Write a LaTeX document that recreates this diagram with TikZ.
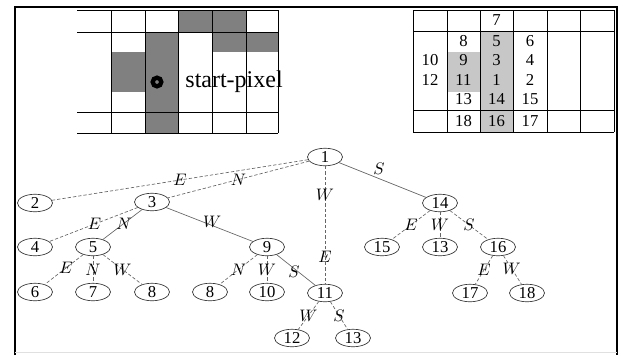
\documentclass[tikz,border=0pt]{standalone}
\usepackage{fontspec}
\setmainfont{Liberation Serif}
\usetikzlibrary{calc,shapes.geometric}
\newcommand{\Px}{0.6pt}
\tikzset{Tnode/.style={
    ellipse,
    draw=black!80,
    thin,
    inner sep=0pt,
    minimum width=21pt,
    minimum height=10.5pt,
    }
}

\begin{document}
\begin{tikzpicture}[x=\Px, y=-\Px, line width=0.5pt,
    Dir/.style={inner sep=0pt},
    Link/.style={draw=black!60, thin},
    Skip/.style={draw=black!60, thin, dash pattern=on 2pt off 1.2pt},
    Dark/.style={fill=gray},
    Light/.style={fill=black!22},
]
\useasboundingbox (0,0) rectangle (623,355);
% frame
\draw[line width=1.5pt] (15,355) -- (15,7) -- (617,7) -- (617,355);
\draw[black!12] (15,352) -- (617,352);

% pixel grid with the start pixel
\fill[Dark] (178,10) rectangle (246,32);
\fill[Dark] (212,32) rectangle (278,52);
\fill[Dark] (145,32) rectangle (178,133);
\fill[Dark] (111,52) rectangle (145,92);
\foreach \x in {111,145,178,212,246,278} \draw (\x,10) -- (\x,133);
\foreach \y in {10,32,112,133} \draw (77,\y) -- (278,\y);
\draw[line width=2.6pt] (157,82) circle (4.3);
\node[anchor=west, inner sep=0pt, font=\Large] (start) at (185,82) {start-pixel};

% visiting order
\fill[Light] (480,31) rectangle (513,132);
\fill[Light] (447,52) rectangle (480,92);
\foreach \x in {413,447,480,513,547,580,614} \draw (\x,10) -- (\x,132);
\foreach \y in {10,31,110,132} \draw (413,\y) -- (614,\y);
\node (g7) at (496.5,20.5) {7};
\node (g8) at (463.5,41) {8};
\node (g5) at (496.5,41) {5};
\node (g6) at (530,41) {6};
\node (g10) at (430,60) {10};
\node (g9) at (463.5,60) {9};
\node (g3) at (496.5,60) {3};
\node (g4) at (530,60) {4};
\node (g12) at (430,80) {12};
\node (g11) at (463.5,80) {11};
\node (g1) at (496.5,80) {1};
\node (g2) at (530,80) {2};
\node (g13) at (463.5,99) {13};
\node (g14) at (496.5,99) {14};
\node (g15) at (530,99) {15};
\node (g18) at (463.5,121) {18};
\node (g16) at (496.5,121) {16};
\node (g17) at (530,121) {17};

% search tree
\node[Tnode] (n1) at (325,157) {1};
\node[Tnode] (n2) at (35,203) {2};
\node[Tnode] (n3) at (152,202) {3};
\node[Tnode] (n14) at (440,203) {14};
\node[Tnode] (n4) at (35,247) {4};
\node[Tnode] (n5) at (93,247) {5};
\node[Tnode] (n9) at (267,247) {9};
\node[Tnode] (n15) at (382,247) {15};
\node[Tnode] (n13a) at (440,247) {13};
\node[Tnode] (n16) at (498,247) {16};
\node[Tnode] (n6) at (35,292) {6};
\node[Tnode] (n7) at (93,292) {7};
\node[Tnode] (n8a) at (152,292) {8};
\node[Tnode] (n8b) at (210,292) {8};
\node[Tnode] (n10) at (267,292) {10};
\node[Tnode] (n11) at (325,293) {11};
\node[Tnode] (n17) at (470,293) {17};
\node[Tnode] (n18) at (527,293) {18};
\node[Tnode] (n12) at (292,338) {12};
\node[Tnode] (n13b) at (353,338) {13};

\draw[Skip] (n1) -- node[Dir, pos=0.5] {$E$} (n2);
\draw[Skip] (n1) -- node[Dir, pos=0.5] {$N$} (n3);
\draw[Link] (n1) -- node[Dir, pos=0.46, above=2pt] {$S$} (n14);
\draw[Skip] (n1) -- node[Dir, pos=0.24] {$W$} node[Dir, pos=0.77] {$E$} (n11);
\draw[Skip] (n3) -- node[Dir, pos=0.49] {$E$} (n4);
\draw[Link] (n3) -- node[Dir, pos=0.46] {$N$} (n5);
\draw[Link] (n3) -- node[Dir, pos=0.53, yshift=2pt] {$W$} (n9);
\draw[Skip] (n14) -- node[Dir, pos=0.5] {$E$} (n15);
\draw[Skip] (n14) -- node[Dir, pos=0.5] {$W$} (n13a);
\draw[Skip] (n14) -- node[Dir, pos=0.5] {$S$} (n16);
\draw[Skip] (n5) -- node[Dir, pos=0.45] {$E$} (n6);
\draw[Skip] (n5) -- node[Dir, pos=0.5] {$N$} (n7);
\draw[Skip] (n5) -- node[Dir, pos=0.5] {$W$} (n8a);
\draw[Skip] (n9) -- node[Dir, pos=0.5] {$N$} (n8b);
\draw[Skip] (n9) -- node[Dir, pos=0.5] {$W$} (n10);
\draw[Link] (n9) -- node[Dir, pos=0.45, yshift=-2pt] {$S$} (n11);
\draw[Skip] (n16) -- node[Dir, pos=0.5] {$E$} (n17);
\draw[Skip] (n16) -- node[Dir, pos=0.45] {$W$} (n18);
\draw[Skip] (n11) -- node[Dir, pos=0.5] {$W$} (n12);
\draw[Skip] (n11) -- node[Dir, pos=0.5] {$S$} (n13b);
\end{tikzpicture}
\end{document}
